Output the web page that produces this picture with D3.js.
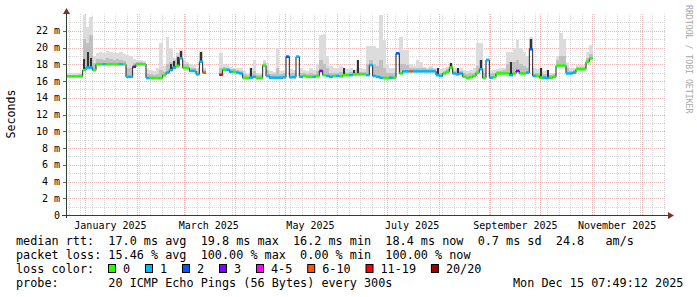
<!DOCTYPE html>
<html>
<head>
<meta charset="utf-8">
<script src="https://cdn.jsdelivr.net/npm/d3@7/dist/d3.min.js"></script>
<style>
  body { margin: 0; background: #fff; }
  text { font-family: "DejaVu Sans Mono", monospace; white-space: pre; }
</style>
</head>
<body>
<svg id="chart" width="697" height="297"></svg>
<script>
// 360 day smokeping view, samples every 2 days
var startTime = new Date(2024, 11, 20, 7, 49, 12);
var endTime = new Date(2025, 11, 15, 7, 49, 12);
var stepDays = 2;

// median rtt (ms) per sample, null = no data
var medianMs = [
  16.55, 16.55, 16.55, 16.55, 16.55, 17.3, 17.6, 17.6, 17.3, 18.0,
  18.0, 18.0, 18.0, 18.0, 18.0, 18.0, 18.0, 18.0, 16.5, 16.5,
  17.7, 18.0, 18.0, 18.0, 16.35, 16.35, 16.35, 16.35, 16.35, 16.7,
  17.0, 17.3, 17.6, 17.8, 18.7, 17.55, 17.55, 17.2, 17.2, 16.8,
  18.3, 17.0, null, null, null, null, 16.75, 17.35, 17.35, 17.1,
  17.1, 17.0, 16.9, 16.35, 16.35, 16.4, 16.5, 16.35, 16.35, 17.85,
  16.6, 16.4, 16.4, 16.4, 16.4, 16.45, 18.9, 16.45, 16.45, 18.9,
  16.5, 16.6, 16.5, 16.5, 16.5, 16.6, 17.2, 16.7, 16.6, 16.5,
  16.6, 16.6, 16.55, 16.7, 16.7, 16.7, 16.8, 16.8, 16.8, 16.8,
  16.7, 17.9, 16.6, 16.5, 16.4, 16.35, 16.35, 16.4, 16.4, 19.3,
  16.9, 17.15, 17.15, 17.15, 17.15, 17.15, 17.15, 17.15, 17.15, 17.15,
  17.15, 16.7, 16.6, 16.9, 17.1, 17.6, 16.9, 16.8, 16.9, 16.5,
  16.35, 16.45, 16.6, 17.0, 17.4, 16.35, 18.5, 16.4, 16.45, 16.9,
  16.9, 16.9, 16.9, 16.7, 16.9, 17.2, 16.9, 16.9, 17.0, 19.8,
  16.6, 16.6, 16.4, 16.4, 16.35, 16.4, 16.5, 17.85, 17.85, 17.85,
  16.9, 16.9, 17.0, 17.4, 17.4, 17.4, 18.3, 18.7
];

// index into lossColors
var lossClass = [
  0, 0, 0, 0, 0, 0, 1, 1, 0, 0,
  0, 1, 0, 0, 0, 0, 1, 0, 1, 1,
  3, 0, 0, 0, 1, 0, 0, 0, 0, 0,
  1, 1, 1, 0, 1, 0, 0, 1, 1, 1,
  1, 5, null, null, null, null, 6, 0, 1, 1,
  0, 1, 1, 0, 0, 1, 1, 0, 0, 0,
  1, 1, 1, 1, 1, 1, 2, 1, 1, 1,
  1, 0, 0, 0, 1, 0, 3, 0, 1, 1,
  0, 1, 0, 0, 0, 1, 0, 0, 0, 0,
  1, 1, 1, 1, 1, 0, 0, 1, 0, 2,
  0, 1, 1, 5, 1, 1, 1, 1, 1, 1,
  1, 1, 1, 0, 0, 0, 1, 1, 1, 0,
  0, 0, 0, 0, 1, 0, 1, 1, 0, 0,
  0, 0, 0, 1, 0, 3, 0, 0, 1, 2,
  1, 0, 0, 1, 1, 0, 0, 0, 0, 0,
  1, 1, 1, 0, 0, 0, 0, 0
];

// top of the light smoke (slowest pings)
var smokeMax = [
  16.9, 16.9, 16.9, 16.9, 17.0, 23.9, 22.5, 23.7, 19.0, 19.3,
  19.5, 19.4, 19.6, 19.5, 19.3, 19.4, 19.5, 19.2, 19.1, 19.0,
  18.6, 18.5, 18.5, 18.4, 17.4, 17.3, 17.2, 17.5, 20.5, 17.8,
  21.3, 20.0, 18.8, 19.3, 19.7, 18.5, 18.3, 18.0, 17.9, 17.5,
  19.6, 17.6, null, null, null, null, 19.3, 18.0, 17.9, 17.7,
  17.6, 17.5, 17.5, 17.2, 17.0, 17.6, 18.5, 17.0, 17.0, 18.5,
  18.2, 17.2, 17.1, 19.9, 17.2, 17.3, 19.1, 17.4, 17.3, 19.1,
  17.5, 17.3, 17.2, 17.6, 17.3, 18.0, 21.5, 21.6, 19.0, 17.8,
  17.5, 17.6, 17.8, 17.6, 17.4, 17.5, 17.3, 18.5, 17.5, 17.4,
  20.2, 20.2, 20.2, 20.0, 23.9, 20.9, 18.0, 17.5, 17.6, 19.5,
  21.3, 19.7, 19.7, 18.0, 17.8, 18.5, 18.3, 17.7, 17.6, 17.8,
  17.6, 17.5, 17.4, 17.5, 17.7, 18.2, 17.6, 17.6, 17.5, 17.3,
  17.2, 17.3, 17.6, 20.5, 20.5, 17.5, 18.7, 17.3, 17.3, 17.4,
  17.5, 17.6, 19.5, 19.5, 20.0, 20.9, 20.0, 19.5, 19.0, 21.2,
  17.5, 17.4, 17.5, 17.2, 17.3, 17.0, 17.0, 19.0, 21.7, 21.0,
  18.2, 17.5, 17.5, 17.9, 17.9, 17.9, 19.5, 20.3
];

// top of the denser middle smoke
var smokeMid = [
  16.7, 16.7, 16.7, 16.7, 16.8, 21.0, 20.5, 21.5, 18.2, 18.6,
  18.6, 18.5, 18.7, 18.6, 18.5, 18.6, 18.5, 18.4, 17.6, 17.5,
  18.2, 18.3, 18.3, 18.2, 16.8, 16.8, 16.7, 16.8, 17.3, 17.1,
  18.0, 18.3, 18.5, 19.0, 19.5, 18.0, 18.0, 17.6, 17.6, 17.2,
  19.4, 17.3, null, null, null, null, 17.5, 17.7, 17.6, 17.4,
  17.4, 17.3, 17.2, 16.8, 16.7, 17.0, 17.2, 16.7, 16.7, 18.2,
  17.3, 16.8, 16.8, 17.5, 16.8, 16.9, 19.0, 16.9, 16.9, 19.0,
  17.0, 16.9, 16.8, 16.9, 16.8, 17.2, 18.5, 18.0, 17.5, 17.0,
  17.0, 17.0, 17.1, 17.1, 17.0, 17.1, 17.1, 17.4, 17.1, 17.1,
  18.0, 18.5, 18.0, 17.8, 18.5, 17.5, 17.0, 16.9, 16.9, 19.4,
  18.0, 18.0, 17.9, 17.6, 17.5, 17.6, 17.6, 17.5, 17.4, 17.5,
  17.4, 17.2, 17.0, 17.2, 17.4, 18.0, 17.2, 17.3, 17.2, 16.9,
  16.8, 16.9, 17.0, 17.8, 18.5, 17.0, 18.6, 16.9, 16.9, 17.2,
  17.2, 17.3, 18.0, 18.3, 18.3, 18.5, 18.0, 17.8, 17.6, 21.0,
  17.0, 17.0, 17.0, 16.8, 16.8, 16.7, 16.8, 18.5, 19.0, 19.0,
  17.5, 17.2, 17.3, 17.7, 17.7, 17.7, 18.8, 19.2
];

// [sample index, top in ms] of the dark smoke core
var darkCore = [
  [5, 18.6], [6, 19.5], [7, 18.8], [31, 18.0], [32, 18.4], [33, 18.9],
  [34, 19.6], [40, 19.5], [55, 17.6], [83, 17.6], [86, 17.3], [87, 18.5],
  [111, 17.5], [115, 18.2], [117, 17.6], [124, 18.5], [133, 18.3],
  [139, 21.0], [142, 17.5], [144, 17.3]
];

var lossLabels = ["0", "1", "2", "3", "4-5", "6-10", "11-19", "20/20"];
var lossColors = ["#26ff00", "#00b8ff", "#0059ff", "#7e00ff",
  "#ff00ff", "#ff5500", "#ff0000", "#a10000"];

var yMajorTicks = [0, 2, 4, 6, 8, 10, 12, 14, 16, 18, 20, 22];
var yTickLabels = ["0", "2 m", "4 m", "6 m", "8 m", "10 m", "12 m",
  "14 m", "16 m", "18 m", "20 m", "22 m"];

var legendRtt = "median rtt:  17.0 ms avg  19.8 ms max  16.2 ms min  18.4 ms now  0.7 ms sd  24.8   am/s";
var legendLoss = "packet loss: 15.46 % avg  100.00 % max  0.00 % min  100.00 % now";
var legendProbe = "probe:       20 ICMP Echo Pings (56 Bytes) every 300s";
var legendDate = "Mon Dec 15 07:49:12 2025";

(function () {
  var svg = d3.select("#chart");
  var left = 66, right = 666, top = 14, bottom = 215;
  var charW = 7.1;

  var x = d3.scaleTime().domain([startTime, endTime]).range([left, right]);
  var y = d3.scaleLinear().domain([0, 24]).range([bottom, top]);

  var sampleTime = function (i) {
    return d3.timeHour.offset(startTime, i * stepDays * 24);
  };

  var samples = medianMs.map(function (m, i) {
    return {
      i: i, med: m, loss: lossClass[i], max: smokeMax[i], mid: smokeMid[i],
      x0: x(sampleTime(i)), x1: x(sampleTime(i + 1))
    };
  });
  var valid = samples.filter(function (d) { return d.med !== null; });

  // grid (under the data)
  var grid = svg.append("g").attr("shape-rendering", "crispEdges")
    .attr("stroke-dasharray", "1,1").attr("stroke-width", 1);
  var hline = function (sel, color) {
    sel.attr("x1", left).attr("x2", right)
      .attr("y1", function (d) { return Math.round(y(d)) + 0.5; })
      .attr("y2", function (d) { return Math.round(y(d)) + 0.5; })
      .attr("stroke", color);
  };
  var vline = function (sel, color) {
    sel.attr("y1", top).attr("y2", bottom)
      .attr("x1", function (d) { return Math.round(x(d)) + 0.5; })
      .attr("x2", function (d) { return Math.round(x(d)) + 0.5; })
      .attr("stroke", color);
  };
  hline(grid.selectAll("line.hmin").data(d3.range(1, 24)).enter().append("line"), "#d6d6d6");
  vline(grid.selectAll("line.vmin").data(d3.timeSunday.range(startTime, endTime)).enter().append("line"), "#d6d6d6");
  hline(grid.selectAll("line.hmaj").data(yMajorTicks.slice(1)).enter().append("line"), "#ecb4b4");
  vline(grid.selectAll("line.vmaj").data(d3.timeMonth.range(startTime, endTime)).enter().append("line"), "#ecb4b4");

  // smoke
  var smoke = svg.append("g").attr("shape-rendering", "crispEdges");
  smoke.selectAll("rect.light").data(valid).enter().append("rect")
    .attr("x", function (d) { return d.x0; })
    .attr("width", function (d) { return d.x1 - d.x0; })
    .attr("y", function (d) { return y(d.max); })
    .attr("height", function (d) { return y(d.med) - y(d.max) + 1; })
    .attr("fill", "#dcdcdc");
  smoke.selectAll("rect.mid").data(valid).enter().append("rect")
    .attr("x", function (d) { return d.x0; })
    .attr("width", function (d) { return d.x1 - d.x0; })
    .attr("y", function (d) { return y(d.mid); })
    .attr("height", function (d) { return y(d.med) - y(d.mid) + 1; })
    .attr("fill", "#c0c0c0");
  smoke.selectAll("rect.core").data(darkCore).enter().append("rect")
    .attr("x", function (d) { return samples[d[0]].x0 + 0.7; })
    .attr("width", function (d) { return samples[d[0]].x1 - samples[d[0]].x0 - 1.4; })
    .attr("y", function (d) { return y(d[1]); })
    .attr("height", function (d) { return y(samples[d[0]].med) - y(d[1]); })
    .attr("fill", "#333333");

  // median: dark connecting line, then loss coloured segments
  var stepPts = [];
  samples.forEach(function (d) {
    stepPts.push({ t: d.x0, v: d.med });
    if (d.med !== null && (d.i + 1 >= samples.length || samples[d.i + 1].med === null)) {
      stepPts.push({ t: d.x1, v: d.med });
    }
  });
  svg.append("path")
    .datum(stepPts)
    .attr("fill", "none")
    .attr("stroke", "#202020")
    .attr("stroke-width", 1)
    .attr("d", d3.line()
      .defined(function (d) { return d.v !== null; })
      .x(function (d) { return d.t; })
      .y(function (d) { return y(d.v); })
      .curve(d3.curveStepAfter));

  svg.append("g").selectAll("line").data(valid).enter().append("line")
    .attr("x1", function (d) { return d.x0; })
    .attr("x2", function (d) { return d.x1; })
    .attr("y1", function (d) { return y(d.med); })
    .attr("y2", function (d) { return y(d.med); })
    .attr("stroke", function (d) { return lossColors[d.loss]; })
    .attr("stroke-width", 2.6);

  // axes
  var axis = svg.append("g").attr("shape-rendering", "crispEdges");
  axis.append("line").attr("x1", 62).attr("x2", 669)
    .attr("y1", bottom + 0.5).attr("y2", bottom + 0.5).attr("stroke", "#2c4032");
  axis.append("line").attr("x1", left + 0.5).attr("x2", left + 0.5)
    .attr("y1", bottom + 3).attr("y2", 11).attr("stroke", "#2c4032");
  axis.selectAll("line.tk").data(yMajorTicks.slice(1)).enter().append("line")
    .attr("x1", left - 3).attr("x2", left)
    .attr("y1", function (d) { return Math.round(y(d)) + 0.5; })
    .attr("y2", function (d) { return Math.round(y(d)) + 0.5; })
    .attr("stroke", "#666");
  svg.append("path")
    .attr("d", "M668,212L668,219L674,215.5Z").attr("fill", "#803129");
  svg.append("path")
    .attr("d", "M63,14L70,14L66.5,8Z").attr("fill", "#803129");

  svg.selectAll("text.ylab").data(yMajorTicks).enter().append("text")
    .attr("x", 60)
    .attr("y", function (d) { return y(d) + 3.5; })
    .attr("text-anchor", "end")
    .attr("font-size", "10px")
    .text(function (d, i) { return yTickLabels[i]; });

  var labelMonths = d3.timeMonth.every(2).range(new Date(2025, 0, 1), endTime);
  svg.selectAll("text.xlab").data(labelMonths).enter().append("text")
    .attr("x", function (d) { return x(d3.timeDay.offset(d, 15)); })
    .attr("y", 228.5)
    .attr("text-anchor", "middle")
    .attr("font-size", "10px")
    .text(d3.timeFormat("%B %Y"));

  svg.append("text")
    .attr("transform", "translate(14.5,114) rotate(-90)")
    .attr("text-anchor", "middle")
    .attr("font-size", "11.6px")
    .text("Seconds");

  svg.append("text")
    .attr("transform", "translate(685.5,5) rotate(90)")
    .attr("font-size", "8.2px")
    .attr("fill", "#a8a8a8")
    .text("RRDTOOL / TOBI OETIKER");

  // legend
  var legend = svg.append("g").attr("font-size", "11.8px");
  legend.append("text").attr("x", 16).attr("y", 245).attr("xml:space", "preserve").text(legendRtt);
  legend.append("text").attr("x", 16).attr("y", 258.8).attr("xml:space", "preserve").text(legendLoss);
  legend.append("text").attr("x", 16).attr("y", 272.7).attr("xml:space", "preserve").text("loss color:");
  legend.append("text").attr("x", 16).attr("y", 286.6).attr("xml:space", "preserve").text(legendProbe);
  legend.append("text").attr("x", 513).attr("y", 286.6).text(legendDate);

  var bx = 108.5;
  lossLabels.forEach(function (label, i) {
    legend.append("rect")
      .attr("x", bx).attr("y", 264.5).attr("width", 7).attr("height", 8)
      .attr("fill", lossColors[i]).attr("stroke", "#000").attr("stroke-width", 1);
    legend.append("text").attr("x", bx + 14.5).attr("y", 272.7).text(label);
    bx += 15 + label.length * charW + 14.9;
  });
}());
</script>
</body>
</html>
